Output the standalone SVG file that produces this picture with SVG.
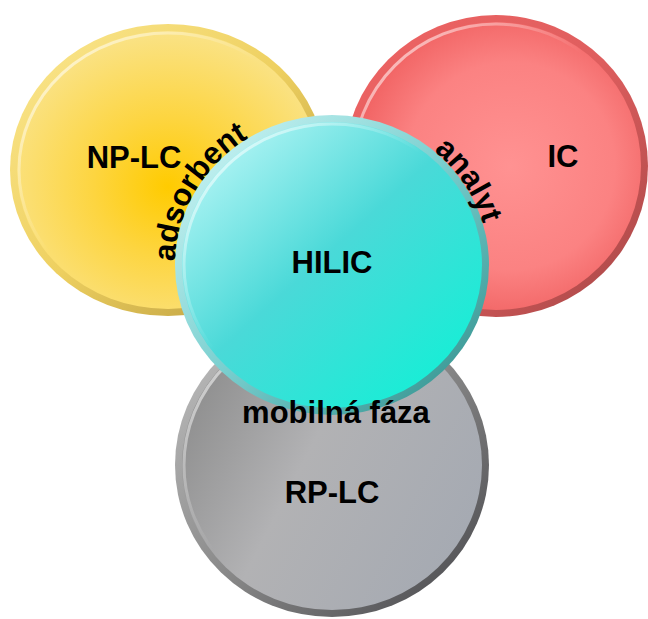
<svg xmlns="http://www.w3.org/2000/svg" xmlns:xlink="http://www.w3.org/1999/xlink" width="648" height="619" viewBox="0 0 648 619">
  <style>
    .lbl { font-family: "Liberation Sans", Arial, sans-serif; font-weight: bold; font-size: 31px; fill: #000; text-anchor: middle; }
    .arc { font-family: "Liberation Sans", Arial, sans-serif; font-weight: bold; font-size: 31px; fill: #000; }
  </style>
  <defs>
    <linearGradient id="yRim" x1="0" y1="0" x2="1" y2="1">
      <stop offset="0" stop-color="#FCE890"/>
      <stop offset="0.5" stop-color="#EED060"/>
      <stop offset="1" stop-color="#B09238"/>
    </linearGradient>
    <radialGradient id="yBody" cx="0.5" cy="0.56" r="0.55">
      <stop offset="0" stop-color="#FFCB00"/>
      <stop offset="0.45" stop-color="#FDD540"/>
      <stop offset="1" stop-color="#FAE284"/>
    </radialGradient>
    <linearGradient id="rRim" x1="0" y1="0" x2="1" y2="1">
      <stop offset="0" stop-color="#F06464"/>
      <stop offset="0.5" stop-color="#DE5E5E"/>
      <stop offset="1" stop-color="#A44646"/>
    </linearGradient>
    <radialGradient id="rBody" cx="0.55" cy="0.5" r="0.6">
      <stop offset="0" stop-color="#FF9292"/>
      <stop offset="0.6" stop-color="#FB8282"/>
      <stop offset="1" stop-color="#EE5A5A"/>
    </radialGradient>
    <linearGradient id="cRim" x1="0" y1="0" x2="1" y2="1">
      <stop offset="0" stop-color="#D6FAFA"/>
      <stop offset="0.5" stop-color="#7ACFCF"/>
      <stop offset="1" stop-color="#2A8A86"/>
    </linearGradient>
    <linearGradient id="cBody" x1="0.1" y1="0.1" x2="0.9" y2="0.95">
      <stop offset="0" stop-color="#B0F4F4"/>
      <stop offset="0.45" stop-color="#4AD9D8"/>
      <stop offset="1" stop-color="#12F0D6"/>
    </linearGradient>
    <linearGradient id="gRim" x1="0" y1="0" x2="1" y2="1">
      <stop offset="0" stop-color="#C4C4C4"/>
      <stop offset="0.5" stop-color="#8A8A8A"/>
      <stop offset="1" stop-color="#444448"/>
    </linearGradient>
    <linearGradient id="gBody" x1="0" y1="0.3" x2="1" y2="0.8">
      <stop offset="0" stop-color="#8E8E8E"/>
      <stop offset="0.4" stop-color="#B2B2B4"/>
      <stop offset="1" stop-color="#A4A9B2"/>
    </linearGradient>
    <linearGradient id="hi" x1="0" y1="0" x2="1" y2="1">
      <stop offset="0" stop-color="#FFFFFF" stop-opacity="0.8"/>
      <stop offset="0.45" stop-color="#FFFFFF" stop-opacity="0"/>
    </linearGradient>
    <path id="pAds" d="M197.4 342.3 A157 150 0 0 1 329.3 115"/>
    <path id="pAna" d="M326.5 115.1 A157 150 0 0 1 470.6 335.4"/>
  </defs>

  <g id="np-lc">
    <ellipse cx="168" cy="170" rx="158" ry="146" fill="url(#yRim)"/>
    <ellipse cx="168" cy="170" rx="151" ry="139" fill="url(#yBody)"/>
    <ellipse cx="168" cy="170" rx="149" ry="137" fill="none" stroke="url(#hi)" stroke-width="3"/>
    <text class="lbl" x="134" y="168">NP-LC</text>
  </g>

  <g id="ic">
    <ellipse cx="496" cy="166" rx="152" ry="151" fill="url(#rRim)"/>
    <ellipse cx="496" cy="166" rx="145" ry="144" fill="url(#rBody)"/>
    <ellipse cx="496" cy="166" rx="143" ry="142" fill="none" stroke="url(#hi)" stroke-width="3"/>
    <text class="lbl" x="563" y="167">IC</text>
  </g>

  <g id="rp-lc">
    <ellipse cx="332" cy="465" rx="157" ry="152" fill="url(#gRim)"/>
    <ellipse cx="332" cy="465" rx="150" ry="145" fill="url(#gBody)"/>
    <ellipse cx="332" cy="465" rx="148" ry="143" fill="none" stroke="url(#hi)" stroke-width="3"/>
    <text class="lbl" x="332" y="503">RP-LC</text>
  </g>

  <g id="hilic">
    <ellipse cx="332" cy="265" rx="157" ry="150" fill="url(#cRim)"/>
    <ellipse cx="332" cy="265" rx="150" ry="143" fill="url(#cBody)"/>
    <ellipse cx="332" cy="265" rx="148" ry="141" fill="none" stroke="url(#hi)" stroke-width="3"/>
    <text class="lbl" x="332" y="273">HILIC</text>
  </g>

  <g id="labels">
    <text class="lbl" x="336" y="423">mobilná fáza</text>
    <text class="arc"><textPath xlink:href="#pAds" href="#pAds" startOffset="50%" text-anchor="middle">adsorbent</textPath></text>
    <text class="arc"><textPath xlink:href="#pAna" href="#pAna" startOffset="50%" text-anchor="middle">analyt</textPath></text>
  </g>
</svg>
